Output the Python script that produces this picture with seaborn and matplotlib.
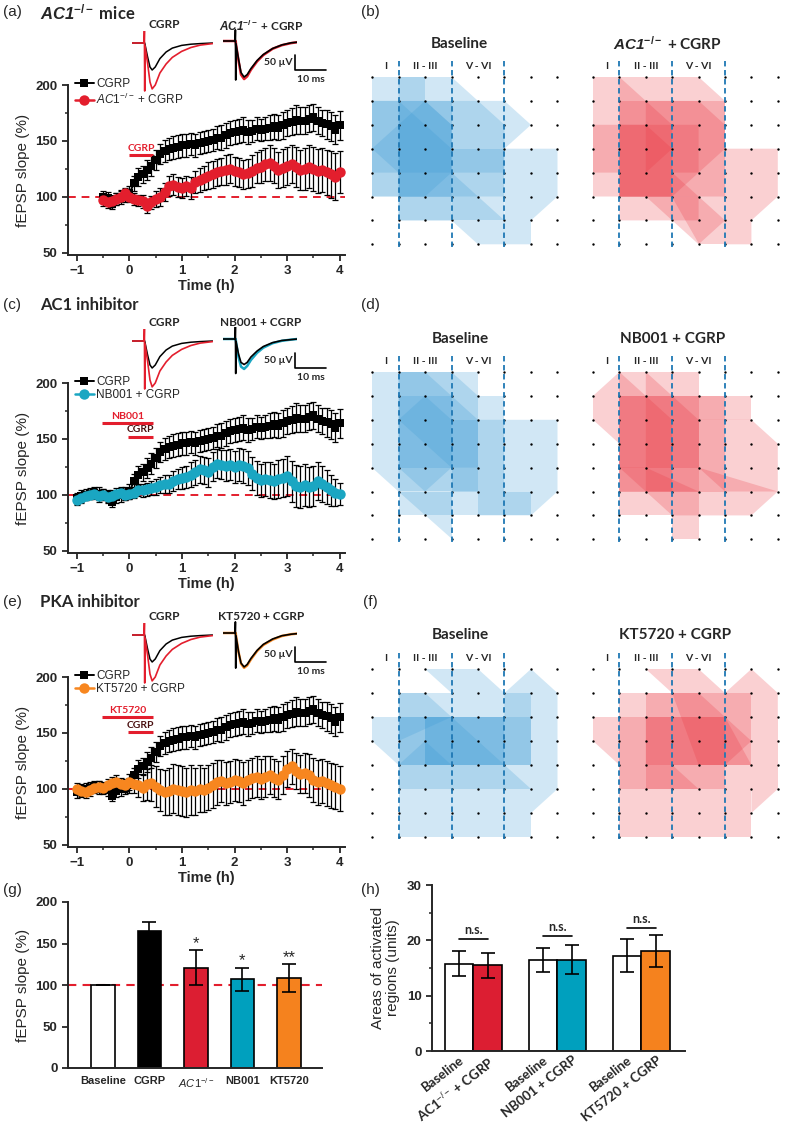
import numpy as np
import pandas as pd
import matplotlib
matplotlib.use('Agg')
import matplotlib.pyplot as plt
import seaborn as sns
from matplotlib.patches import Polygon
from matplotlib.lines import Line2D

sns.set_style('ticks')
plt.rcParams['font.family'] = ['Liberation Sans', 'DejaVu Sans']
plt.rcParams['mathtext.fontset'] = 'custom'
plt.rcParams['mathtext.rm'] = 'Liberation Sans'
plt.rcParams['mathtext.it'] = 'Liberation Sans:italic'
plt.rcParams['mathtext.bf'] = 'Liberation Sans:bold'
plt.rcParams['mathtext.bfit'] = 'Liberation Sans:bold:italic'

# ---------------- data ----------------
time_h = np.round(np.linspace(-1, 4, 61), 3)

cgrp_vals = [97, 99, 100, 101, 102, 101, 100, 99, 94, 98, 100, 101, 103,
             112, 118, 120, 124, 128, 133, 138, 141, 143, 144, 145, 146,
             146, 147, 146, 148, 149, 150, 151, 153, 153, 155, 157, 158,
             159, 160, 158, 159, 161, 160, 161, 162, 163, 162, 164, 166,
             167, 169, 168, 168, 170, 171, 168, 166, 165, 163, 160, 164]
cgrp_err = [5, 5, 5, 5, 5, 6, 5, 5, 5, 5, 6, 6, 7,
            7, 8, 8, 9, 9, 9, 9, 10, 10, 10, 10, 10,
            10, 10, 10, 10, 10, 10, 10, 10, 11, 11, 11, 11,
            11, 11, 11, 10, 10, 10, 10, 11, 11, 11, 12, 12,
            12, 13, 12, 12, 12, 12, 12, 12, 13, 13, 13, 13]

ac1_vals = [97, 95, 96, 98, 100, 103, 100,
            98, 97, 96, 92, 95, 98, 100, 104, 110, 111, 109, 108,
            110, 108, 113, 115, 117, 119, 120, 122, 123, 124, 125, 123,
            122, 120, 121, 123, 126, 127, 129, 130, 128, 124, 126, 128,
            129, 127, 124, 125, 127, 125, 123, 124, 122, 120, 118, 122]
ac1_err = [5, 5, 5, 5, 5, 5, 5,
           5, 5, 6, 6, 6, 7, 8, 8, 9, 9, 9, 9,
           9, 10, 10, 11, 11, 12, 12, 12, 12, 13, 13, 13,
           13, 13, 13, 14, 14, 15, 15, 16, 16, 16, 17, 17,
           17, 18, 18, 19, 19, 20, 20, 20, 20, 21, 21, 19]

nb001_vals = [95, 97, 99, 100, 101, 99, 100, 98, 99, 101, 102, 100, 101,
              102, 104, 104, 105, 106, 107, 109, 110, 110, 112, 114, 115,
              116, 118, 120, 123, 122, 120, 125, 128, 127, 126, 127, 125,
              127, 126, 124, 119, 115, 113, 114, 113, 112, 114, 115, 117,
              112, 108, 107, 109, 107, 108, 112, 110, 107, 104, 102, 101]
nb001_err = [4, 4, 4, 4, 5, 5, 5, 5, 5, 5, 5, 5, 5,
             5, 5, 6, 6, 6, 7, 7, 8, 8, 9, 9, 10,
             10, 11, 11, 12, 12, 13, 13, 13, 13, 14, 14, 14,
             15, 15, 15, 15, 15, 15, 15, 16, 16, 17, 17, 18,
             18, 19, 19, 19, 18, 18, 17, 16, 15, 14, 12, 10]

kt5720_vals = [100, 98, 97, 99, 101, 102, 101, 103, 105, 106, 104, 103, 106,
               104, 103, 101, 104, 105, 102, 99, 97, 98, 100, 99, 98,
               97, 99, 98, 100, 99, 101, 103, 106, 107, 105, 106, 108,
               107, 105, 108, 110, 111, 109, 111, 112, 110, 108, 112, 118,
               120, 116, 113, 114, 112, 108, 106, 107, 105, 103, 102, 100]
kt5720_err = [5, 5, 5, 5, 5, 5, 5, 6, 6, 6, 6, 6, 7,
              8, 10, 12, 14, 16, 18, 19, 20, 21, 22, 22, 22,
              22, 22, 21, 21, 20, 20, 20, 20, 19, 19, 19, 19,
              19, 19, 18, 18, 18, 18, 18, 17, 17, 17, 17, 16,
              16, 16, 17, 18, 19, 20, 20, 20, 20, 20, 20, 20]

# example traces (ms, uV)
trace1_t = [0, 3.9, 4.0, 4.1, 4.2, 5.0, 5.8, 6.5, 7.5, 9.0, 11.0, 13.0, 16.0, 19.0, 22.0, 26.0]
cgrp_trace_base = [0, 0, 0, 0, -5, -45, -80, -90, -80, -52, -30, -17, -8, -4, -2, 0]
cgrp_trace_cgrp = [0, 0, 40, -160, -10, -65, -130, -153, -140, -100, -70, -48, -28, -15, -7, -2]
trace2_t = [0, 3.9, 4.0, 4.1, 4.2, 5.0, 5.8, 6.8, 7.8, 9.0, 11.0, 13.0, 16.0, 19.0, 22.0, 24.0]
ac1_trace_base = [0, 0, 37, -130, -10, -60, -105, -120, -112, -92, -65, -45, -25, -13, -6, -4]
ac1_trace_cgrp = [0, 0, 0, 0, -12, -65, -112, -127, -118, -96, -68, -47, -26, -14, -7, -4]
nb_trace_base = [0, 0, 45, -115, -8, -50, -78, -85, -78, -60, -40, -25, -12, -5, -2, 0]
nb_trace_cgrp = [0, 0, 0, 0, -10, -60, -92, -100, -90, -70, -46, -29, -14, -6, -2, 0]
kt_trace_base = [0, 0, 37, -117, -10, -62, -100, -113, -105, -85, -58, -38, -20, -9, -4, -2]
kt_trace_cgrp = [0, 0, 0, 0, -10, -63, -102, -116, -108, -88, -60, -40, -22, -10, -4, -2]

# summary (g)
g_labels = ['Baseline', 'CGRP', r'$\mathit{AC1}^{-/-}$', 'NB001', 'KT5720']
g_means = [100, 165, 121, 107, 108]
g_err = [0, 11, 21, 14, 17]
g_stars = ['', '', '*', '*', '**']

# summary (h)
h_groups = ['AC1', 'NB001', 'KT5720']
h_base_means = [15.8, 16.5, 17.2]
h_base_err = [2.2, 2.2, 3.0]
h_drug_means = [15.5, 16.5, 18.0]
h_drug_err = [2.3, 2.6, 2.9]
h_ticklabels = ['Baseline', 'AC1$^{-/-}$ + CGRP', 'Baseline', 'NB001 + CGRP',
                'Baseline', 'KT5720 + CGRP']
h_ns_y = [20.2, 20.8, 22.3]

# activation maps (grid units: column, row)
grid_cols = list(range(8))
grid_rows = list(range(8))
layer_bounds = [1, 3, 5]
layer_labels = ['I', 'II - III', 'V - VI']
layer_label_x = [0.5, 2, 4]

b_base = [
    [(0, 0), (3, 0), (5, 2), (5, 5), (0, 5)],
    [(0, 1), (5, 1), (6, 2), (5, 3), (5, 4), (0, 4)],
    [(0, 3), (2, 1), (3, 2), (3, 4), (2, 5), (0, 5)],
    [(1, 0), (2, 0), (2, 1), (3, 2), (3, 6), (1, 6)],
    [(0, 1), (1, 1), (3, 3), (3, 4), (1, 4), (0, 3)],
    [(5, 3), (7, 3), (7, 5), (6, 6), (6, 7), (5, 7)],
    [(1, 4), (3, 4), (5, 6), (5, 7), (4, 7), (3, 6), (1, 6)],
    [(3, 3), (5, 3), (5, 6), (3, 6)],
    [(1, 1), (3, 1), (3, 5), (1, 5)],
]
b_drug = [
    [(0, 0), (4, 0), (5, 1), (5, 5), (0, 5)],
    [(1, 1), (5, 1), (5, 5), (1, 5)],
    [(1, 0), (3, 2), (3, 5), (1, 5)],
    [(0, 2), (2, 2), (3, 3), (2, 4), (0, 4)],
    [(1, 2), (4, 2), (4, 4), (3, 5), (1, 5)],
    [(2, 1), (4, 1), (5, 2), (5, 3), (4, 4), (2, 4)],
    [(5, 3), (7, 3), (7, 5), (6, 6), (6, 7), (5, 7)],
    [(1, 4), (3, 4), (4, 5), (4, 6), (1, 6)],
    [(2, 5), (4, 5), (5, 6), (4, 7)],
    [(3, 5), (5, 5), (5, 7), (4, 7)],
]
d_base = [
    [(0, 0), (4, 0), (4, 5), (1, 5), (0, 4)],
    [(1, 0), (3, 0), (4, 1), (4, 5), (1, 5)],
    [(1, 1), (3, 1), (3, 4), (1, 4)],
    [(1, 0), (2, 0), (4, 2), (4, 4), (3, 4), (1, 2)],
    [(4, 1), (5, 1), (5, 2), (4, 2)],
    [(4, 2), (7, 2), (7, 5), (6, 6), (4, 6)],
    [(3, 2), (5, 2), (5, 5), (3, 5)],
    [(1, 5), (6, 5), (6, 6), (1, 6)],
    [(1, 5), (3, 5), (3, 7)],
    [(1, 2), (2, 1), (3, 2), (3, 4), (2, 5), (1, 4)],
]
d_drug = [
    [(1, 0), (0, 1), (0, 2), (1, 3)],
    [(1, 0), (4, 0), (4, 6), (1, 6)],
    [(4, 1), (6, 1), (6, 2), (4, 2)],
    [(4, 2), (6, 2), (7, 3), (7, 5), (6, 6), (4, 6)],
    [(3, 6), (4, 6), (4, 7), (3, 7)],
    [(1, 0), (3, 2), (3, 5), (1, 5)],
    [(2, 0), (4, 2), (4, 5), (2, 5)],
    [(1, 1), (5, 1), (5, 5), (1, 5)],
    [(1, 1), (4, 1), (4, 4), (1, 4)],
    [(4, 4), (7, 5), (5, 5)],
    [(1, 4), (3, 6), (4, 6), (4, 5), (2, 4)],
]
f_base = [
    [(2, 0), (4, 0), (5, 1), (3, 1)],
    [(5, 1), (6, 0), (7, 1), (7, 2), (5, 2)],
    [(1, 1), (6, 1), (6, 5), (1, 5)],
    [(0, 2), (7, 2), (7, 4), (1, 4), (0, 3)],
    [(1, 2), (5, 2), (5, 4), (1, 4)],
    [(2, 2), (3, 2), (5, 4), (2, 4)],
    [(1, 4), (2, 3), (3, 4), (5, 4), (6, 5), (1, 5)],
    [(1, 5), (6, 5), (6, 7), (1, 7)],
    [(6, 4), (7, 4), (7, 5), (6, 6)],
    [(1, 1), (2, 1), (3, 2), (1, 3)],
    [(2, 2), (6, 2), (6, 4), (2, 4)],
]
f_drug = [
    [(2, 0), (4, 0), (5, 1), (3, 1)],
    [(5, 1), (6, 0), (7, 1), (7, 2), (5, 2)],
    [(0, 2), (1, 2), (1, 4), (0, 3)],
    [(1, 1), (6, 1), (6, 5), (1, 5)],
    [(1, 2), (7, 2), (7, 5), (6, 5), (6, 4), (1, 4)],
    [(2, 2), (5, 2), (6, 3), (5, 4), (2, 4)],
    [(3, 1), (4, 1), (5, 2), (6, 4), (4, 4)],
    [(1, 5), (6, 5), (6, 7), (1, 7)],
    [(1, 4), (3, 4), (4, 5), (1, 5)],
    [(6, 5), (7, 5), (6, 6)],
    [(2, 1), (5, 1), (5, 5), (2, 5)],
]

# ---------------- style ----------------
RED = '#e31e2d'
CYAN = '#1aa6c2'
ORANGE = '#f7861f'
BLUE_POLY = '#3a9ad6'
RED_POLY = '#ea3540'
DASH_BLUE = '#1f78b4'
CAL = 'Lato'

W, H = 785, 1124
fig = plt.figure(figsize=(W / 100, H / 100), dpi=100)


def box(l, t, r, b):
    return fig.add_axes([l / W, 1 - b / H, (r - l) / W, (b - t) / H])


def ftext(x, y, s, **kw):
    fig.text(x / W, 1 - y / H, s, **kw)


def style_axis(ax, labelsize=9.5):
    sns.despine(ax=ax)
    for s in ['left', 'bottom']:
        ax.spines[s].set_linewidth(1.4)
    ax.tick_params(which='major', direction='out', length=4, width=1.3, labelsize=labelsize)
    ax.tick_params(which='minor', direction='out', length=2.5, width=1.1)
    for lab in ax.get_yticklabels():
        lab.set_fontweight('bold')


def trace_insets(dy, base2, drug2, col2, label2):
    a1 = box(132, 31 + dy, 212.6, 92.5 + dy)
    a1.set_xlim(0, 26)
    a1.set_ylim(-165, 40)
    a1.axis('off')
    sns.lineplot(x=trace1_t, y=cgrp_trace_base, ax=a1, color='k', lw=1.1, sort=False)
    sns.lineplot(x=trace1_t, y=cgrp_trace_cgrp, ax=a1, color=RED, lw=1.2, sort=False)
    a2 = box(223, 29 + dy, 297.4, 90.5 + dy)
    a2.set_xlim(0, 24)
    a2.set_ylim(-165, 40)
    a2.axis('off')
    sns.lineplot(x=trace2_t, y=drug2, ax=a2, color=col2, lw=1.8, sort=False)
    sns.lineplot(x=trace2_t, y=base2, ax=a2, color='k', lw=1.2, sort=False)
    a2.plot([23.2, 23.2, 33.2], [-46.7, -96.7, -96.7], color='k', lw=1.2, clip_on=False)
    a2.text(22.4, -72, '50 µV', ha='right', va='center', fontsize=7.5, fontweight='bold',
            family=[CAL, 'DejaVu Sans'], clip_on=False)
    a2.text(28.2, -127, '10 ms', ha='center', va='center', fontsize=7.5, fontweight='bold',
            family=[CAL, 'DejaVu Sans'], clip_on=False)
    ftext(164, 25 + dy, 'CGRP', ha='center', va='center', fontsize=8.5, fontweight='bold', family=CAL)
    ftext(261, 25 + dy, label2, ha='center', va='center', fontsize=8.5, fontweight='bold', family=CAL)


def timecourse(top, comp_vals, comp_err, comp_color, comp_marker, comp_label, start, bars):
    ax = box(68, top, 345, top + 170)
    ax.axhline(100, color=RED, ls=(0, (4, 3)), lw=1.4, zorder=1)
    tb = time_h[start:]
    ax.errorbar(tb, cgrp_vals[start:], yerr=cgrp_err[start:], fmt='none', ecolor='k',
                elinewidth=0.9, capsize=2.2, capthick=0.9, zorder=2)
    sns.lineplot(x=tb, y=cgrp_vals[start:], ax=ax, color='k', marker='s', markersize=6,
                 markeredgewidth=0, lw=1.4, zorder=3)
    tc = time_h[len(time_h) - len(comp_vals):]
    ax.errorbar(tc, comp_vals, yerr=comp_err, fmt='none', ecolor='k',
                elinewidth=0.9, capsize=2.2, capthick=0.9, zorder=4)
    sns.lineplot(x=tc, y=comp_vals, ax=ax, color=comp_color, marker=comp_marker, markersize=7.5,
                 markeredgewidth=0, lw=1.8, zorder=5)
    for s, e, y, lbl, lc in bars:
        ax.plot([s, e], [y, y], color=RED, lw=2.2, solid_capstyle='butt')
        ax.text((s + e) / 2, y + 6, lbl, color=lc, ha='center', va='center', fontsize=7.5,
                fontweight='bold', family=CAL)
    ax.set_xlim(-1.17, 4.1)
    ax.set_ylim(48, 200)
    ax.set_xticks([-1, 0, 1, 2, 3, 4])
    ax.set_xticks([-0.5, 0.5, 1.5, 2.5, 3.5], minor=True)
    ax.set_yticks([50, 100, 150, 200])
    ax.set_yticks([75, 125, 175], minor=True)
    ax.set_xlabel('Time (h)', fontsize=10.5, fontweight='bold', labelpad=1)
    ax.set_ylabel('fEPSP slope (%)', fontsize=11, labelpad=4)
    style_axis(ax)
    for lab in ax.get_xticklabels():
        lab.set_fontweight('bold')
    handles = [Line2D([], [], color='k', marker='s', markersize=6, markeredgewidth=0, lw=1.4),
               Line2D([], [], color=comp_color, marker=comp_marker, markersize=7.5,
                      markeredgewidth=0, lw=1.8)]
    ax.legend(handles, ['CGRP', comp_label], loc='upper left', bbox_to_anchor=(0.02, 1.05),
              frameon=False, fontsize=8.5, handlelength=1.6, handletextpad=0.2,
              labelspacing=0.15, borderpad=0.1, borderaxespad=0)
    return ax


def grid_panel(c0, r0, dx, dy, polys, color, title, title_col):
    ax = box(c0 - 0.7 * dx, r0 - 1.9 * dy, c0 + 7.6 * dx, r0 + 7.5 * dy)
    ax.set_xlim(-0.7, 7.6)
    ax.set_ylim(7.5, -1.9)
    ax.axis('off')
    for p in polys:
        ax.add_patch(Polygon(p, closed=True, fc=color, alpha=0.23, ec='none', zorder=1))
    gx, gy = np.meshgrid(grid_cols, grid_rows)
    ax.scatter(gx.ravel(), gy.ravel(), s=3, c='k', zorder=3, linewidths=0)
    for c in layer_bounds:
        ax.plot([c, c], [-0.65, 7.1], color=DASH_BLUE, lw=1.3, ls=(0, (3, 2)), zorder=4)
    for lbl, x in zip(layer_labels, layer_label_x):
        ax.text(x, -0.42, lbl, ha='center', va='center', fontsize=7.5, fontweight='bold', family=CAL)
    ax.text(title_col, -1.4, title, ha='center', va='center', fontsize=11, fontweight='bold',
            family=CAL)
    return ax


# ---------------- panels a, c, e ----------------
ftext(12, 12, '(a)', fontsize=11, va='center', ha='center')
ftext(40, 12, r'$\mathbfit{AC1}^{\mathbf{-/-}}$ mice', fontsize=12, va='center', ha='left',
      fontweight='bold', family=CAL)
timecourse(85, ac1_vals, ac1_err, RED, 'o', r'$\mathit{AC1}^{-/-}$ + CGRP', 6,
           [(0, 0.45, 137, 'CGRP', RED)])
trace_insets(0, ac1_trace_base, ac1_trace_cgrp, RED, r'$\mathbfit{AC1}^{\mathbf{-/-}}$ + CGRP')

ftext(12, 305, '(c)', fontsize=11, va='center', ha='center')
ftext(40, 305, 'AC1 inhibitor', fontsize=12, va='center', ha='left', fontweight='bold', family=CAL)
timecourse(383, nb001_vals, nb001_err, CYAN, 'o', 'NB001 + CGRP', 0,
           [(-0.52, 0.45, 164, 'NB001', RED), (-0.03, 0.45, 152, 'CGRP', '#4a1010')])
trace_insets(298, nb_trace_base, nb_trace_cgrp, CYAN, 'NB001 + CGRP')

ftext(12, 602, '(e)', fontsize=11, va='center', ha='center')
ftext(40, 602, 'PKA inhibitor', fontsize=12, va='center', ha='left', fontweight='bold', family=CAL)
timecourse(677, kt5720_vals, kt5720_err, ORANGE, 'o', 'KT5720 + CGRP', 0,
           [(-0.52, 0.45, 164, 'KT5720', RED), (-0.03, 0.45, 151, 'CGRP', '#4a1010')])
trace_insets(592, kt_trace_base, kt_trace_cgrp, ORANGE, 'KT5720 + CGRP')

# ---------------- panels b, d, f ----------------
ftext(370, 12, '(b)', fontsize=11, va='center', ha='center')
grid_panel(372, 77, 26.5, 23.9, b_base, BLUE_POLY, 'Baseline', 3.3)
grid_panel(593, 77, 26.4, 23.9, b_drug, RED_POLY, r'$\mathbfit{AC1}^{\mathbf{-/-}}$ + CGRP', 2.8)
ftext(370, 305, '(d)', fontsize=11, va='center', ha='center')
grid_panel(372, 372, 26.5, 23.9, d_base, BLUE_POLY, 'Baseline', 3.35)
grid_panel(593, 372, 26.4, 23.9, d_drug, RED_POLY, 'NB001 + CGRP', 3.0)
ftext(370, 602, '(f)', fontsize=11, va='center', ha='center')
grid_panel(372, 669, 26.5, 24.0, f_base, BLUE_POLY, 'Baseline', 3.35)
grid_panel(593, 669, 26.4, 24.0, f_drug, RED_POLY, 'KT5720 + CGRP', 3.1)

# ---------------- panel g ----------------
ftext(12, 890, '(g)', fontsize=11, va='center', ha='center')
axg = box(68, 902, 322, 1068)
df_g = pd.DataFrame({'cond': g_labels, 'val': g_means})
sns.barplot(data=df_g, x='cond', y='val', hue='cond',
            palette=['white', 'black', '#dc1e32', '#00a0be', '#f5821e'], saturation=1,
            edgecolor='black', linewidth=1.2, width=0.5, legend=False, errorbar=None, ax=axg, zorder=2)
axg.errorbar(range(len(g_means)), g_means, yerr=g_err, fmt='none', ecolor='k', elinewidth=1.2,
             capsize=5, capthick=1.2, zorder=3)
axg.axhline(100, color=RED, ls=(0, (4, 3)), lw=1.5, zorder=1)
for i, s in enumerate(g_stars):
    if s:
        axg.text(i, g_means[i] + g_err[i] + 8, s, ha='center', va='center', fontsize=12)
axg.set_xlim(-0.75, 4.71)
axg.set_ylim(0, 200)
axg.set_yticks([0, 50, 100, 150, 200])
axg.set_xlabel('')
axg.set_ylabel('fEPSP slope (%)', fontsize=11, labelpad=4)
style_axis(axg)
axg.tick_params(axis='x', length=0, labelsize=8, pad=6)
for lab in axg.get_xticklabels():
    lab.set_fontweight('bold')

# ---------------- panel h ----------------
ftext(370, 890, '(h)', fontsize=11, va='center', ha='center')
axh = box(432, 885, 685, 1051)
df_h = pd.DataFrame({'group': h_groups * 2,
                     'cond': ['Baseline'] * 3 + ['Drug'] * 3,
                     'val': h_base_means + h_drug_means})
sns.barplot(data=df_h, x='group', y='val', hue='cond', palette=['white', 'white'], saturation=1,
            edgecolor='black', linewidth=1.2, width=0.69, legend=False, errorbar=None, ax=axh, zorder=2)
drug_cols = ['#dc1e32', '#00a0be', '#f5821e']
base_x = [p.get_x() + p.get_width() / 2 for p in axh.containers[0]]
drug_x = [p.get_x() + p.get_width() / 2 for p in axh.containers[1]]
for p, c in zip(axh.containers[1], drug_cols):
    p.set_facecolor(c)
axh.errorbar(base_x, h_base_means, yerr=h_base_err, fmt='none', ecolor='k', elinewidth=1.2,
             capsize=5, capthick=1.2, zorder=3)
axh.errorbar(drug_x, h_drug_means, yerr=h_drug_err, fmt='none', ecolor='k', elinewidth=1.2,
             capsize=5, capthick=1.2, zorder=3)
for xb, xd, y in zip(base_x, drug_x, h_ns_y):
    axh.plot([xb, xd], [y, y], color='k', lw=1.2)
    axh.text((xb + xd) / 2, y + 0.5, 'n.s.', ha='center', va='bottom', fontsize=9,
             fontweight='bold', family=CAL)
axh.set_xlim(-0.494, 2.518)
axh.set_ylim(0, 30)
axh.set_yticks([0, 10, 20, 30])
axh.set_yticks([5, 15, 25], minor=True)
tick_x = []
for b, d in zip(base_x, drug_x):
    tick_x += [b, d]
axh.set_xticks(tick_x)
axh.set_xticklabels(h_ticklabels, rotation=38, ha='right', rotation_mode='anchor',
                    fontsize=8.5, fontweight='bold', family=CAL)
axh.set_xlabel('')
axh.set_ylabel('Areas of activated\nregions (units)', fontsize=11, labelpad=5, linespacing=1.1)
style_axis(axh)
axh.tick_params(axis='x', length=0, pad=2)

fig.savefig('out.png', dpi=100)
